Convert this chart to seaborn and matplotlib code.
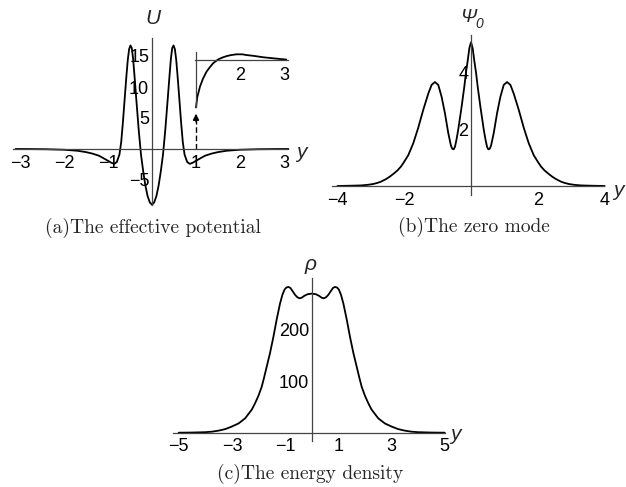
import matplotlib
matplotlib.use("Agg")
import matplotlib.pyplot as plt
import seaborn as sns
import pandas as pd

# (a) effective potential U(y)
y_a = [-3.1, -2.8, -2.4, -2.0, -1.7, -1.5, -1.35, -1.2, -1.1, -1.0,
       -0.93, -0.86, -0.8, -0.74, -0.7, -0.66, -0.62, -0.58, -0.55, -0.52,
       -0.49, -0.46, -0.43, -0.4, -0.35, -0.3, -0.25, -0.2, -0.15, -0.1,
       -0.05, 0.0,
       0.05, 0.1, 0.15, 0.2, 0.25, 0.3, 0.35, 0.4,
       0.43, 0.46, 0.49, 0.52, 0.55, 0.58, 0.62, 0.66, 0.7, 0.74,
       0.8, 0.86, 0.93, 1.0, 1.1, 1.2, 1.35, 1.5, 1.7, 2.0,
       2.4, 2.8, 3.1]
U_a = [0.0, -0.01, -0.04, -0.12, -0.28, -0.5, -0.75, -1.1, -1.5, -1.9,
       -2.2, -2.4, -2.1, -0.9, 1.1, 4.4, 8.2, 11.9, 14.4, 16.1,
       16.7, 16.3, 14.6, 12.0, 7.4, 2.9, -0.9, -3.6, -5.9, -7.6,
       -8.6, -9.0,
       -8.6, -7.6, -5.9, -3.6, -0.9, 2.9, 7.4, 12.0,
       14.6, 16.3, 16.7, 16.1, 14.4, 11.9, 8.2, 4.4, 1.1, -0.9,
       -2.1, -2.4, -2.2, -1.9, -1.5, -1.1, -0.75, -0.5, -0.28, -0.12,
       -0.04, -0.01, 0.0]

# magnified tail shown in the inset of (a)
y_inset = [1.0, 1.03, 1.09, 1.16, 1.24, 1.32, 1.39, 1.51, 1.6, 1.7,
           1.8, 1.92, 2.05, 2.15, 2.3, 2.53, 2.75, 2.91, 3.05]
U_inset = [-1.92, -1.50, -1.08, -0.75, -0.47, -0.28, -0.13, 0.03, 0.10, 0.16,
           0.20, 0.23, 0.23, 0.20, 0.17, 0.11, 0.07, 0.04, 0.02]

# (b) zero mode
y_b = [-4.0, -3.6, -3.3, -3.1, -2.93, -2.8, -2.7, -2.55, -2.43, -2.3,
       -2.2, -2.1, -2.03, -1.88, -1.73,
       -1.58, -1.43, -1.28, -1.18, -1.08, -0.98, -0.88, -0.78, -0.68, -0.6,
       -0.56, -0.52, -0.48, -0.43, -0.38, -0.28, -0.2, -0.15, -0.1, -0.05,
       0.0,
       0.05, 0.1, 0.15, 0.2, 0.28, 0.38, 0.43, 0.48, 0.52, 0.56,
       0.6, 0.68, 0.78, 0.88, 0.98, 1.08, 1.18, 1.28, 1.43, 1.58,
       1.73, 1.88, 2.03, 2.1, 2.2, 2.3, 2.43, 2.55, 2.7, 2.8,
       2.93, 3.1, 3.3, 3.6, 4.0]
psi_b = [0.0, 0.01, 0.02, 0.04, 0.07, 0.11, 0.15, 0.24, 0.33, 0.45,
         0.55, 0.68, 0.8, 1.08, 1.5,
         2.05, 2.68, 3.25, 3.56, 3.66, 3.56, 3.14, 2.56, 1.86, 1.42,
         1.31, 1.29, 1.38, 1.66, 2.0, 2.8, 3.5, 4.0, 4.4, 4.85,
         5.06,
         4.85, 4.4, 4.0, 3.5, 2.8, 2.0, 1.66, 1.38, 1.29, 1.31,
         1.42, 1.86, 2.56, 3.14, 3.56, 3.66, 3.56, 3.25, 2.68, 2.05,
         1.5, 1.08, 0.8, 0.68, 0.55, 0.45, 0.33, 0.24, 0.15, 0.11,
         0.07, 0.04, 0.02, 0.01, 0.0]

# (c) energy density
y_c = [-5.0, -4.5, -4.0, -3.75, -3.5, -3.25, -3.0, -2.75, -2.5, -2.25,
       -2.13, -2.0, -1.88, -1.8, -1.72, -1.57,
       -1.44, -1.32, -1.19, -1.1, -1.02, -0.95, -0.87, -0.8, -0.72, -0.63,
       -0.54, -0.46, -0.38, -0.27, -0.15, 0.0,
       0.15, 0.27, 0.38, 0.46, 0.54, 0.63, 0.72, 0.8, 0.87, 0.95,
       1.02, 1.1, 1.19, 1.32, 1.44, 1.57, 1.72, 1.8, 1.88, 2.0,
       2.13, 2.25, 2.5, 2.75, 3.0, 3.25, 3.5, 3.75, 4.0, 4.5, 5.0]
rho_c = [0.0, 0.3, 1.0, 2.0, 4.0, 7.0, 12.0, 18.0, 28.0, 45.0,
         57.0, 72.0, 89.0, 105.0, 122.0, 154.0,
         186.0, 219.0, 251.0, 268.0, 278.0, 282.0, 283.0, 281.0, 275.0, 268.0,
         263.0, 261.0, 262.0, 266.0, 269.0, 270.0,
         269.0, 266.0, 262.0, 261.0, 263.0, 268.0, 275.0, 281.0, 283.0, 282.0,
         278.0, 268.0, 251.0, 219.0, 186.0, 154.0, 122.0, 105.0, 89.0, 72.0,
         57.0, 45.0, 28.0, 18.0, 12.0, 7.0, 4.0, 2.0, 1.0, 0.3, 0.0]

W, H = 626, 487
axis_color = "#444444"

sns.set_style("white")
plt.rcParams["font.family"] = ["Liberation Sans", "DejaVu Sans"]


def place(x0, sx, xlim, y0, sy, ylim):
    # axes rectangle in figure fractions from pixel origin + pixel scale
    left = x0 + xlim[0] * sx
    right = x0 + xlim[1] * sx
    top = y0 - ylim[1] * sy
    bot = y0 - ylim[0] * sy
    return [left / W, 1 - bot / H, (right - left) / W, (bot - top) / H]


def math_axes(ax, xlim, ylim, xbounds, ybounds, xticks, yticks, x_at=0, xpad=4):
    ax.set_xlim(*xlim)
    ax.set_ylim(*ylim)
    ax.patch.set_alpha(0)
    for s in ["top", "right"]:
        ax.spines[s].set_visible(False)
    ax.spines["left"].set_position(("data", x_at))
    ax.spines["bottom"].set_position(("data", 0))
    ax.spines["bottom"].set_bounds(*xbounds)
    ax.spines["left"].set_bounds(*ybounds)
    for s in ["left", "bottom"]:
        ax.spines[s].set_color(axis_color)
        ax.spines[s].set_linewidth(0.9)
    ax.set_xticks(xticks)
    ax.set_yticks(yticks)
    ax.tick_params(direction="in", length=3.5, width=0.8, color=axis_color,
                   labelsize=13, labelcolor="black")
    ax.tick_params(axis="x", pad=xpad)
    ax.tick_params(axis="y", pad=2)
    ax.set_xlabel("")
    ax.set_ylabel("")


def curve(ax, xs, ys):
    df = pd.DataFrame({"y": xs, "v": ys})
    sns.lineplot(data=df, x="y", y="v", ax=ax, color="black", lw=1.3,
                 estimator=None, sort=False)


fig = plt.figure(figsize=(W / 100, H / 100), dpi=100)

# (a)
xlim_a, ylim_a = (-3.3, 3.3), (-10, 19)
ax_a = fig.add_axes(place(152, 44, xlim_a, 149, 6.2, ylim_a))
curve(ax_a, y_a, U_a)
ax_a.plot([1, 1], [0, 4.6], color="black", lw=1.0, ls=(0, (4, 2)))
ax_a.annotate("", xy=(1, 5.7), xytext=(1, 4.4),
              arrowprops=dict(arrowstyle="-|>", color="black", lw=1.0,
                              mutation_scale=9, shrinkA=0, shrinkB=0))
math_axes(ax_a, xlim_a, ylim_a, (-3.16, 3.07), (-9.1, 17.9),
          [-3, -2, -1, 1, 2, 3], [-5, 5, 10, 15])

# inset of (a)
xlim_i, ylim_i = (0.9, 3.2), (-2.1, 0.5)
ax_i = fig.add_axes(place(152, 44, xlim_i, 60, 24.7, ylim_i))
curve(ax_i, y_inset, U_inset)
math_axes(ax_i, xlim_i, ylim_i, (0.98, 3.09), (-1.92, 0.33),
          [2, 3], [], x_at=1, xpad=5)

# (b)
xlim_b, ylim_b = (-4.5, 4.5), (-0.5, 5.6)
ax_b = fig.add_axes(place(471, 33.4, xlim_b, 186, 28.4, ylim_b))
curve(ax_b, y_b, psi_b)
math_axes(ax_b, xlim_b, ylim_b, (-4.17, 3.98), (-0.3, 5.3),
          [-4, -2, 2, 4], [2, 4])

# (c)
xlim_c, ylim_c = (-5.5, 5.5), (-25, 320)
ax_c = fig.add_axes(place(311.7, 26.6, xlim_c, 432.7, 0.515, ylim_c))
curve(ax_c, y_c, rho_c)
math_axes(ax_c, xlim_c, ylim_c, (-5.23, 5.01), (-17, 300),
          [-5, -3, -1, 1, 3, 5], [100, 200])


def ftext(px, py, s, **kw):
    fig.text(px / W, 1 - py / H, s, **kw)


# axis labels
ftext(153, 19, "U", fontsize=15, style="italic", ha="center", va="center")
ftext(301, 152, "y", fontsize=15, style="italic", ha="center", va="center")
ftext(468, 18, "Ψ", fontsize=14, style="italic", ha="center", va="center")
ftext(479, 24, "0", fontsize=10, style="italic", ha="center", va="center")
ftext(618, 190, "y", fontsize=15, style="italic", ha="center", va="center")
ftext(311, 265, "ρ", fontsize=15, style="italic", ha="center", va="center")
ftext(455, 435, "y", fontsize=15, style="italic", ha="center", va="center")

# captions
cap = dict(fontsize=14, family="cmr10", ha="center", va="baseline")
ftext(153, 233, "(a)The effective potential", **cap)
ftext(474, 232, "(b)The zero mode", **cap)
ftext(310, 479, "(c)The energy density", **cap)

fig.savefig("out.png", dpi=100)
